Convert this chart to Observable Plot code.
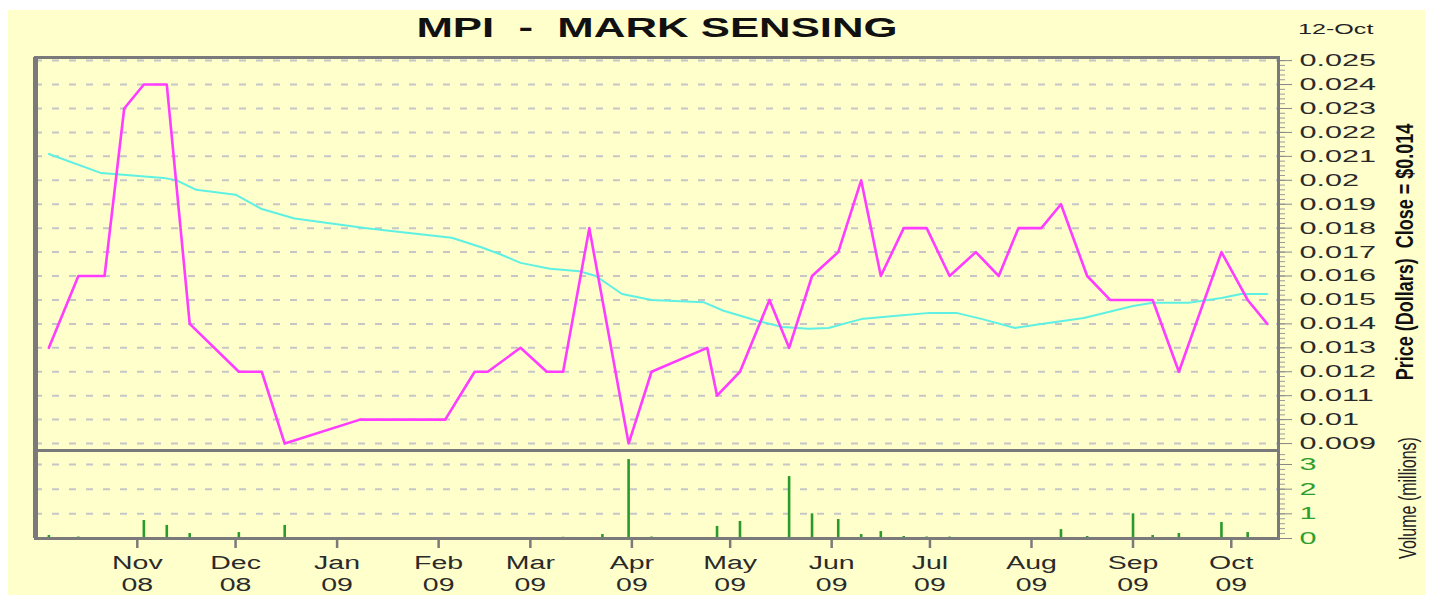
<!DOCTYPE html>
<html><head><meta charset="utf-8">
<script src="https://cdn.jsdelivr.net/npm/d3@7"></script>
<script src="https://cdn.jsdelivr.net/npm/@observablehq/plot@0.6"></script>
<style>
body{margin:0;background:#fff;font-family:"Liberation Sans",Arial,sans-serif}
#wrap{position:relative;width:1431px;height:595px;overflow:hidden}
#bg{position:absolute;left:8px;top:10px;width:1417px;height:585px;background:#FFFFCC}
.layer{position:absolute;left:0;top:0}
.txt{position:absolute;white-space:pre;line-height:1}
#title{left:657px;top:28px;font-weight:bold;font-size:27px;color:#111;transform:translate(-50%,-50%) scaleX(1.62)}
#date{left:1298px;top:29px;font-size:15.5px;color:#222;transform-origin:0 50%;transform:translateY(-50%) scaleX(1.62)}
#ylab1{left:1405px;top:252px;font-weight:bold;font-size:18px;color:#111;transform:translate(-50%,-50%) rotate(-90deg) scaleY(1.35)}
#ylab2{left:1408px;top:498px;font-size:16px;color:#222;transform:translate(-50%,-50%) rotate(-90deg) scaleY(1.55)}
</style></head>
<body>
<div id="wrap">
<div id="bg"></div>
<div id="price" class="layer"></div>
<div id="vol" class="layer"></div>
<div id="title" class="txt">MPI  -  MARK SENSING</div>
<div id="date" class="txt">12-Oct</div>
<div id="ylab1" class="txt">Price (Dollars)  Close = $0.014</div>
<div id="ylab2" class="txt">Volume (millions)</div>
</div>
<script>
// ---- data ----
const priceDates = ["2008-10-05","2008-10-14","2008-10-22","2008-10-28","2008-11-03","2008-11-10","2008-11-17","2008-12-02","2008-12-09","2008-12-16","2009-01-08","2009-02-03","2009-02-12","2009-02-16","2009-02-26","2009-03-06","2009-03-11","2009-03-19","2009-03-31","2009-04-07","2009-04-24","2009-04-27","2009-05-04","2009-05-13","2009-05-19","2009-05-26","2009-06-03","2009-06-10","2009-06-16","2009-06-23","2009-06-30","2009-07-07","2009-07-15","2009-07-22","2009-07-28","2009-08-04","2009-08-10","2009-08-18","2009-08-25","2009-09-07","2009-09-15","2009-09-28","2009-10-06","2009-10-12"];
const priceValues = [0.013,0.016,0.016,0.023,0.024,0.024,0.014,0.012,0.012,0.009,0.010,0.010,0.012,0.012,0.013,0.012,0.012,0.018,0.009,0.012,0.013,0.011,0.012,0.015,0.013,0.016,0.017,0.020,0.016,0.018,0.018,0.016,0.017,0.016,0.018,0.018,0.019,0.016,0.015,0.015,0.012,0.017,0.015,0.014];

const maDates = ["2008-10-05","2008-10-21","2008-11-09","2008-11-13","2008-11-19","2008-12-01","2008-12-09","2008-12-19","2009-01-10","2009-02-05","2009-02-14","2009-02-20","2009-02-26","2009-03-07","2009-03-16","2009-03-21","2009-03-29","2009-04-07","2009-04-23","2009-04-29","2009-05-10","2009-05-17","2009-05-25","2009-05-31","2009-06-10","2009-06-20","2009-07-01","2009-07-09","2009-07-17","2009-07-27","2009-08-04","2009-08-17","2009-09-01","2009-09-07","2009-09-18","2009-09-28","2009-10-04","2009-10-12"];
const maValues = [0.0211,0.0203,0.0201,0.0200,0.0196,0.0194,0.0188,0.0184,0.0180,0.0176,0.0172,0.0169,0.01655,0.0163,0.0162,0.0160,0.01525,0.0150,0.0149,0.01455,0.0141,0.01387,0.0138,0.01383,0.0142,0.01433,0.01446,0.01446,0.0142,0.01383,0.0140,0.01425,0.01475,0.01488,0.01488,0.01508,0.01525,0.01525];

const volDates = ["2008-10-05","2008-10-14","2008-11-03","2008-11-10","2008-11-17","2008-12-02","2008-12-16","2009-03-11","2009-03-23","2009-03-31","2009-04-07","2009-04-27","2009-05-04","2009-05-19","2009-05-26","2009-06-03","2009-06-10","2009-06-16","2009-06-23","2009-06-30","2009-07-07","2009-08-10","2009-08-18","2009-09-01","2009-09-07","2009-09-15","2009-09-28","2009-10-06"];
const volValues = [0.12,0.06,0.73,0.53,0.2,0.24,0.53,0.05,0.16,3.2,0.06,0.49,0.69,2.51,1.0,0.77,0.16,0.28,0.08,0.06,0.06,0.36,0.08,1.0,0.12,0.2,0.65,0.24];

const priceTicks = [0.025,0.024,0.023,0.022,0.021,0.020,0.019,0.018,0.017,0.016,0.015,0.014,0.013,0.012,0.011,0.010,0.009];
const volTicks = [0,1,2,3];
const volGrid = [1,2,3];
const monthStarts = ["2008-11-01","2008-12-01","2009-01-01","2009-02-01","2009-03-01","2009-04-01","2009-05-01","2009-06-01","2009-07-01","2009-08-01","2009-09-01","2009-10-01"];
const monthNames = ["Nov","Dec","Jan","Feb","Mar","Apr","May","Jun","Jul","Aug","Sep","Oct"];
const monthYears = ["08","08","09","09","09","09","09","09","09","09","09","09"];

// ---- build ----
const parse = s => new Date(s + "T00:00:00Z");
const priceData = priceDates.map((d, i) => ({date: parse(d), value: priceValues[i]}));
const maData = maDates.map((d, i) => ({date: parse(d), value: maValues[i]}));
const volData = volDates.map((d, i) => ({date: parse(d), value: volValues[i]}));
const monthTicks = monthStarts.map(parse);
const monthLabel = new Map(monthTicks.map((d, i) => [d.getTime(), monthNames[i] + "\n" + monthYears[i]]));

const FONT = "'Liberation Sans', Arial, sans-serif";
const FRAME = "#7a7a7a";
const xDomain = [new Date("2008-09-30T22:00:00Z"), new Date("2009-10-15T10:00:00Z")];
const common = {
  width: 1431, marginLeft: 35, marginRight: 153,
  style: `background:transparent;overflow:visible;font-family:${FONT}`
};
const grid = {stroke: "#c6c6c6", strokeWidth: 2, strokeDasharray: "7,10"};
const minorP = d3.range(0.009, 0.02501, 0.0002);
const minorV = d3.range(0, 3.55, 0.2);

const price = Plot.plot({
  ...common,
  height: 452, marginTop: 57, marginBottom: 2,
  x: {type: "utc", domain: xDomain, label: null, axis: null},
  y: {domain: [0.00871, 0.02513], label: null},
  marks: [
    Plot.ruleY(priceTicks, grid),
    Plot.line(maData, {x: "date", y: "value", stroke: "#5ef0e2", strokeWidth: 2}),
    Plot.line(priceData, {x: "date", y: "value", stroke: "#ff3cff", strokeWidth: 2.6}),
    Plot.axisY({anchor: "right", ticks: minorP, tickSize: 6, tickFormat: () => "", stroke: "#9a9a9a", label: null}),
    Plot.axisY({anchor: "right", ticks: priceTicks, tickSize: 13, tickPadding: 8, tickFormat: d3.format(".3~f"), fontSize: 17, fill: "#2a2a2a", stroke: "#888", label: null}),
    Plot.frame({stroke: FRAME, strokeWidth: 3}),
    Plot.ruleX([xDomain[0]], {stroke: FRAME, strokeWidth: 5})
  ]
});

const vol = Plot.plot({
  ...common,
  height: 595, marginTop: 450, marginBottom: 57,
  x: {type: "utc", domain: xDomain, label: null},
  y: {domain: [0, 3.567], label: null},
  marks: [
    Plot.ruleY(volGrid, grid),
    Plot.ruleX(volData, {x: "date", y1: 0, y2: "value", stroke: "#2a9a2a", strokeWidth: 2.6}),
    Plot.axisY({anchor: "right", ticks: minorV, tickSize: 6, tickFormat: () => "", stroke: "#9a9a9a", label: null}),
    Plot.axisY({anchor: "right", ticks: volTicks, tickSize: 13, tickPadding: 8, tickFormat: d => String(d), fontSize: 17, fill: "#2e9e2e", stroke: "#888", label: null}),
    Plot.axisX({ticks: monthTicks, tickSize: 10, tickPadding: 4, tickFormat: d => monthLabel.get(+d), fontSize: 19, lineHeight: 1.2, fill: "#2a2a2a", stroke: FRAME, strokeWidth: 2.5, label: null}),
    Plot.frame({stroke: FRAME, strokeWidth: 3}),
    Plot.ruleX([xDomain[0]], {stroke: FRAME, strokeWidth: 5})
  ]
});

function stretch(svg, label, sx) {
  svg.querySelectorAll(`g[aria-label="${label}"] text`).forEach(t => {
    const tr = t.getAttribute("transform") || "";
    t.setAttribute("transform", `${tr} scale(${sx},1)`);
  });
}
stretch(price, "y-axis tick label", 1.8);
stretch(vol, "y-axis tick label", 1.8);
stretch(vol, "x-axis tick label", 1.5);

document.getElementById("price").appendChild(price);
document.getElementById("vol").appendChild(vol);
</script>
</body></html>
